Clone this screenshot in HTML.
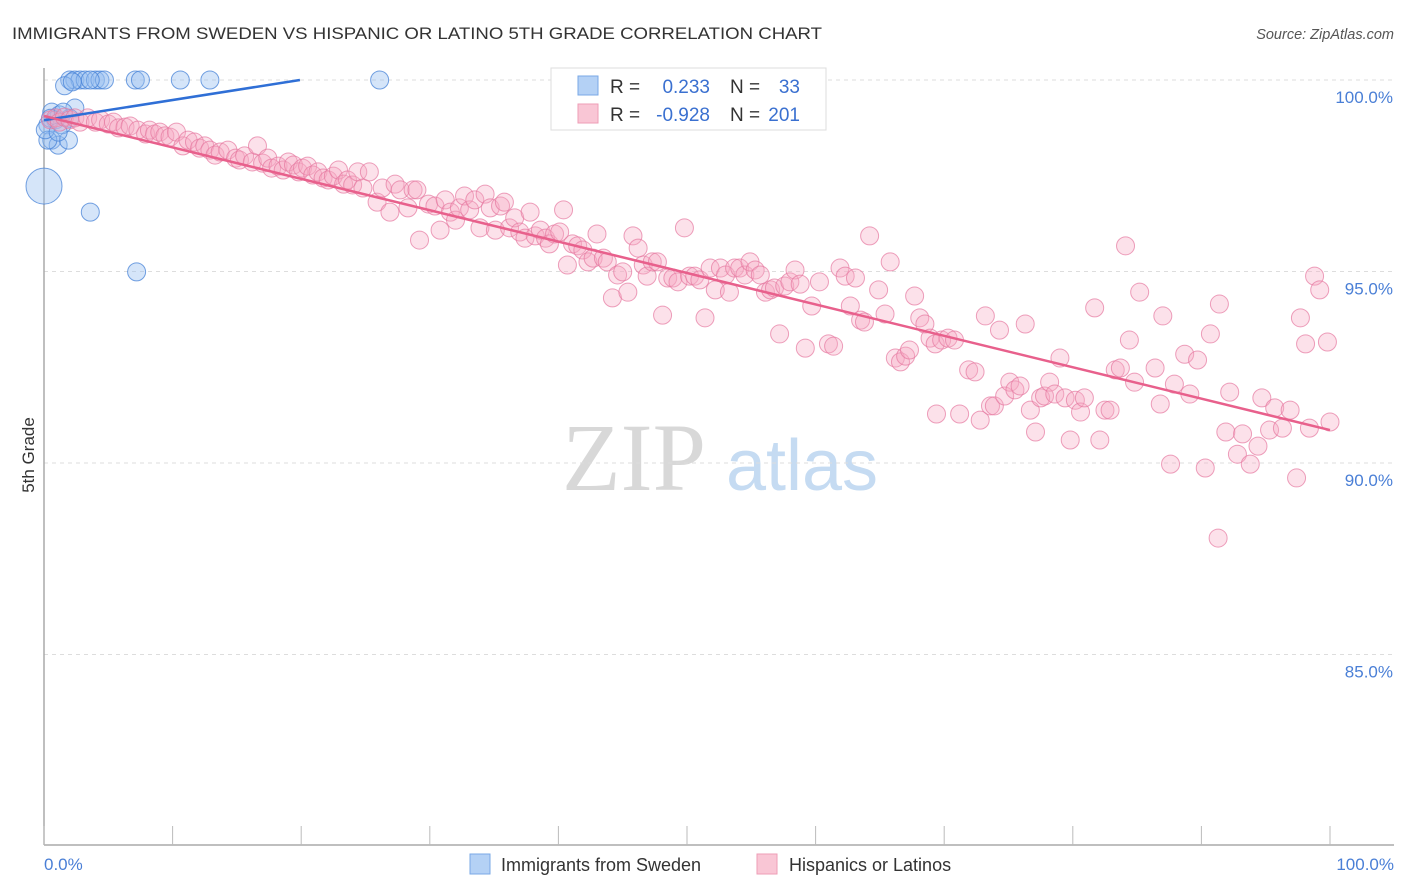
<!DOCTYPE html>
<html><head><meta charset="utf-8"><style>
body{margin:0;background:#fff;}
svg{display:block;font-family:"Liberation Sans",sans-serif;}
</style></head><body>
<svg id="chart" width="1406" height="892" viewBox="0 0 1406 892">
<text x="12" y="39" font-size="17" fill="#333" textLength="810" lengthAdjust="spacingAndGlyphs">IMMIGRANTS FROM SWEDEN VS HISPANIC OR LATINO 5TH GRADE CORRELATION CHART</text>
<text x="1394" y="39" font-size="14.5" fill="#555" font-style="italic" text-anchor="end">Source: ZipAtlas.com</text>
<g>
<text x="634" y="490" font-size="96" font-family="Liberation Serif,serif" fill="#d8d8d8" text-anchor="middle">ZIP</text>
<text x="802" y="490" font-size="72" fill="#c5dbf2" text-anchor="middle">atlas</text>
</g>
<g id="grid"></g>
<g id="axes"></g>
<g id="blue"></g>
<g id="pink"></g>
<g id="trends"></g>
<text transform="translate(34,455) rotate(-90)" font-size="17" fill="#333" text-anchor="middle">5th Grade</text>
<text x="44" y="870" font-size="17" fill="#4a7fd6">0.0%</text>
<text x="1394" y="870" font-size="17" fill="#4a7fd6" text-anchor="end">100.0%</text>
<g>
<rect x="551" y="68" width="275" height="62" fill="#fff" stroke="#ddd"/>
<rect x="578" y="76" width="20" height="19" fill="#b4d1f5" stroke="#7aa8e6"/>
<rect x="578" y="104" width="20" height="19" fill="#f9c6d5" stroke="#ee9db6"/>
<text x="610" y="93" font-size="19" fill="#333">R =</text><text x="710" y="93" font-size="19" fill="#3a70d0" text-anchor="end">0.233</text>
<text x="730" y="93" font-size="19" fill="#333">N =</text><text x="800" y="93" font-size="19" fill="#3a70d0" text-anchor="end">33</text>
<text x="610" y="121" font-size="19" fill="#333">R =</text><text x="710" y="121" font-size="19" fill="#3a70d0" text-anchor="end">-0.928</text>
<text x="730" y="121" font-size="19" fill="#333">N =</text><text x="800" y="121" font-size="19" fill="#3a70d0" text-anchor="end">201</text>
</g>
<g>
<rect x="470" y="854" width="20" height="20" fill="#b4d1f5" stroke="#7aa8e6"/>
<text x="501" y="871" font-size="18" fill="#333">Immigrants from Sweden</text>
<rect x="757" y="854" width="20" height="20" fill="#f9c6d5" stroke="#ee9db6"/>
<text x="789" y="871" font-size="18" fill="#333">Hispanics or Latinos</text>
</g>
</svg>
<script>
const yTicks=[100,95,90,85];
const yTickLabels=["100.0%","95.0%","90.0%","85.0%"];
const xTicks=[0,10,20,30,40,50,60,70,80,90,100];
const blueX=[2.0,2.4,2.8,3.2,4.0,4.35,4.7,7.1,7.5,10.6,12.9,26.1,1.6,0.6,2.4,1.2,0.3,0.6,1.1,1.9,0.3,0,3.6,7.2,0.9,1.4,0.5,2.0,0.1,1.1,3.6,2.2,1.5];
const blueY=[100,100,100,100,100,100,100,100,100,100,100,100,99.85,99.16,99.27,99.09,98.83,98.43,98.3,98.43,98.43,97.23,96.55,94.99,98.96,98.83,99.0,99.0,98.7,98.64,100,99.95,99.16];
const blueR=[9,9,9,9,9,9,9,9,9,9,9,9,9,9,9,9,9,9,9,9,9,18,9,9,9,9,9,9,9,9,9,9,9];
const pinkX=[0.5,0.9,1.2,1.6,2.0,2.4,2.8,3.4,4.0,4.4,5.0,5.4,5.8,6.3,6.7,7.3,7.9,8.2,8.6,9.0,9.4,9.8,10.3,10.8,11.2,11.7,12.1,12.5,12.9,13.3,13.7,14.3,14.9,15.2,15.6,16.2,16.6,17.0,17.4,17.7,18.2,18.6,19.0,19.4,19.8,20.1,20.5,20.9,21.3,21.7,22.1,22.5,22.9,23.3,23.6,24.0,24.4,24.8,25.3,25.9,26.3,26.9,27.3,27.7,28.3,28.7,29.0,29.2,29.9,30.4,30.8,31.2,31.6,32.0,32.3,32.7,33.1,33.5,33.9,34.3,34.7,35.1,35.5,35.8,36.2,36.6,37.0,37.4,37.8,38.2,38.6,39.0,39.3,39.7,40.1,40.4,40.7,41.1,41.5,41.9,42.3,42.7,43.0,43.5,43.8,44.2,44.6,45.0,45.4,45.8,46.2,46.6,46.9,47.3,47.7,48.1,48.5,48.9,49.3,49.8,50.2,50.6,51.0,51.4,51.8,52.2,52.6,53.0,53.3,53.7,54.1,54.5,54.9,55.3,55.7,56.1,56.5,56.8,57.2,57.6,58.0,58.4,58.8,59.2,59.7,60.3,61.0,61.4,61.9,62.3,62.7,63.1,63.5,63.8,64.2,64.9,65.4,65.8,66.2,66.6,67.0,67.3,67.7,68.1,68.5,68.9,69.3,69.4,69.8,70.3,70.8,71.2,71.9,72.4,72.8,73.2,73.6,73.9,74.3,74.7,75.1,75.5,75.9,76.3,76.7,77.1,77.5,77.8,78.2,78.6,79.0,79.4,79.8,80.2,80.6,80.9,81.7,82.1,82.5,82.9,83.3,83.7,84.1,84.4,84.8,85.2,86.4,86.8,87.0,87.6,87.9,88.7,89.1,89.7,90.3,90.7,91.3,91.4,91.9,92.2,92.8,93.2,93.8,94.4,94.7,95.3,95.7,96.3,96.9,97.4,97.7,98.1,98.4,98.8,99.2,99.8,100.0];
const pinkY=[98.96,99.01,98.90,99.03,98.96,99.01,98.90,99.01,98.90,98.96,98.85,98.90,98.75,98.77,98.80,98.69,98.59,98.69,98.59,98.64,98.54,98.51,98.64,98.28,98.43,98.38,98.22,98.28,98.17,98.04,98.12,98.17,97.96,97.91,98.02,97.86,98.28,97.83,97.96,97.70,97.75,97.65,97.86,97.78,97.60,97.70,97.75,97.52,97.60,97.44,97.39,97.49,97.65,97.28,97.39,97.26,97.60,97.18,97.60,96.81,97.18,96.55,97.28,97.13,96.66,97.13,97.13,95.82,96.76,96.71,96.08,96.87,96.55,96.34,96.66,96.97,96.61,96.87,96.14,97.02,96.66,96.08,96.71,96.81,96.14,96.40,96.03,95.87,96.55,95.93,96.08,95.87,95.72,95.98,96.03,96.61,95.17,95.72,95.67,95.56,95.25,95.35,95.98,95.35,95.25,94.31,94.91,94.99,94.46,95.93,95.61,95.17,94.88,95.25,95.25,93.86,94.83,94.83,94.73,96.14,94.88,94.88,94.78,93.79,95.09,94.52,95.09,94.91,94.46,95.09,95.09,94.91,95.25,95.04,94.91,94.46,94.52,94.57,93.37,94.62,94.73,95.04,94.67,93.00,94.10,94.73,93.11,93.05,95.09,94.88,94.10,94.83,93.73,93.68,95.93,94.52,93.89,95.25,92.74,92.64,92.79,92.95,94.36,93.79,93.63,93.26,93.11,91.28,93.21,93.26,93.21,91.28,92.43,92.38,91.12,93.84,91.49,91.49,93.47,91.75,92.11,91.91,92.01,93.63,91.38,90.81,91.70,91.75,92.11,91.80,92.74,91.70,90.60,91.64,91.33,91.70,94.05,90.60,91.38,91.38,92.43,92.48,95.67,93.21,92.11,94.46,92.48,91.54,93.84,89.97,92.06,92.84,91.80,92.69,89.87,93.37,88.04,94.15,90.81,91.85,90.23,90.76,89.97,90.44,91.70,90.86,91.44,90.91,91.38,89.61,93.79,93.11,90.91,94.88,94.52,93.16,91.07];
const blueTrend=[[0,98.95],[19.9,100]];
const pinkTrend=[[0,99.06],[100,90.86]];

const NS="http://www.w3.org/2000/svg";
const X0=44,X1=1330,YTOP=80,PX_PER_PCT=38.3;
function sx(v){return X0+(X1-X0)*v/100;}
function sy(v){return YTOP+(100-v)*PX_PER_PCT;}
function mk(tag,attrs,parent){const e=document.createElementNS(NS,tag);for(const k in attrs)e.setAttribute(k,attrs[k]);parent.appendChild(e);return e;}
const grid=document.getElementById('grid'),axes=document.getElementById('axes');
yTicks.forEach((t,i)=>{
  const l=mk('line',{x1:X0,x2:1394,y1:sy(t),y2:sy(t),stroke:'#ddd','stroke-dasharray':'4 4'},grid);
  
  
  const tx=mk('text',{x:1393,y:sy(t)+23,'font-size':17,fill:'#4a7fd6','text-anchor':'end'},grid);
  tx.textContent=yTickLabels[i];
  
  
});
const ya=mk('line',{x1:X0,x2:X0,y1:68,y2:845,stroke:'#aaa','stroke-width':1.5},axes);


const xa=mk('line',{x1:X0,x2:1394,y1:845,y2:845,stroke:'#aaa','stroke-width':1.5},axes);


xTicks.forEach(t=>{
  const l=mk('line',{x1:sx(t),x2:sx(t),y1:826,y2:845,stroke:'#bbb'},axes);
  
  
});
const pg=document.getElementById('pink');
pinkX.forEach((x,i)=>{
  const c=mk('circle',{cx:sx(x),cy:sy(pinkY[i]),r:9,fill:'rgba(246,170,195,0.35)',stroke:'rgba(230,120,160,0.7)','stroke-width':1},pg);
  
  
});
const bg=document.getElementById('blue');
blueX.forEach((x,i)=>{
  const c=mk('circle',{cx:sx(x),cy:sy(blueY[i]),r:blueR[i],fill:'rgba(150,190,240,0.4)',stroke:'rgba(70,130,215,0.75)','stroke-width':1},bg);
  
  
});
const tg=document.getElementById('trends');
const bt=mk('line',{x1:sx(blueTrend[0][0]),y1:sy(blueTrend[0][1]),x2:sx(blueTrend[1][0]),y2:sy(blueTrend[1][1]),stroke:'#2f6fd6','stroke-width':2.5},tg);


const pt=mk('line',{x1:sx(pinkTrend[0][0]),y1:sy(pinkTrend[0][1]),x2:sx(pinkTrend[1][0]),y2:sy(pinkTrend[1][1]),stroke:'#e8608c','stroke-width':2.5},tg);


</script>
</body></html>
